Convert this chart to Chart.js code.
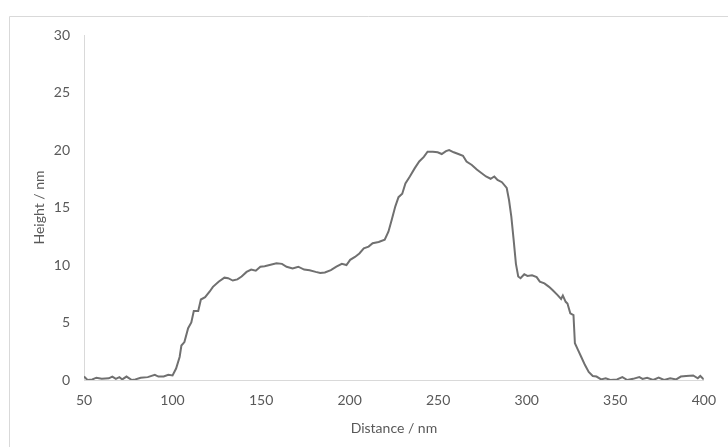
<!DOCTYPE html>
<html>
<head>
<meta charset="utf-8">
<script src="https://cdn.jsdelivr.net/npm/chart.js@4.4.1/dist/chart.umd.min.js"></script>
<style>
  html, body { margin: 0; padding: 0; background: #fff; }
  #profile { display: block; }
</style>
</head>
<body>
<canvas id="profile" width="728" height="447"></canvas>
<script>
// Height profile
const distance = [50, 52, 54.7, 57, 60, 64, 66, 68, 70, 71.6, 74, 77, 79, 82, 86, 90, 92, 95, 97.6, 100,
  102, 104, 105, 106.7, 108.8, 110.6, 112, 114.5, 116, 118.4, 121, 122.8, 126, 129.3, 131.4, 134, 136.6, 139,
  141.8, 144.4, 147, 149.6, 152, 154.8, 158.7, 161.8, 164.4, 167.8, 171, 174.3, 177.4, 180.8, 183.4, 186,
  189.4, 192.5, 195.6, 198.2, 200.3, 203, 205.5, 208, 210.7, 213, 216.4, 219.8, 221.9, 223.7, 225.8, 227.6,
  229.7, 231.5, 234, 236.7, 239.3, 241.9, 244, 247, 249.7, 252, 254.4, 256.2, 258.8, 261.4, 264, 266, 269,
  271.8, 274.4, 277, 279.6, 281.7, 283.5, 286, 288.7, 290, 291.3, 292.6, 293.9, 295.2, 296.5, 298.6, 300.4,
  303, 305.6, 307.4, 310, 312.6, 314.7, 317.3, 319.4, 320.4, 322, 323, 324.6, 326.4, 327.2, 329, 330.8,
  332.9, 335, 337.3, 339.4, 342, 344.6, 347.2, 351, 354, 356.8, 360, 363.6, 365.4, 368, 371.4, 374.5,
  377.6, 381, 384.4, 387, 390, 394, 396.6, 398, 400];
const height = [0.3, 0, 0.05, 0.2, 0.1, 0.15, 0.3, 0.1, 0.25, 0.05, 0.3, 0, 0.05, 0.2, 0.25, 0.45, 0.3, 0.3, 0.45, 0.4,
  1.0, 2.0, 3.0, 3.3, 4.5, 5.0, 6.0, 6.0, 7.0, 7.2, 7.7, 8.1, 8.55, 8.9, 8.85, 8.65, 8.75, 9.0,
  9.4, 9.6, 9.5, 9.85, 9.9, 10.0, 10.15, 10.1, 9.85, 9.7, 9.85, 9.6, 9.55, 9.4, 9.3, 9.35,
  9.55, 9.85, 10.1, 10.0, 10.45, 10.7, 11.0, 11.45, 11.6, 11.9, 12.0, 12.2, 12.9, 13.9, 15.1, 15.9,
  16.2, 17.1, 17.7, 18.4, 19.0, 19.4, 19.85, 19.85, 19.8, 19.65, 19.9, 20.0, 19.8, 19.65, 19.5, 19.0, 18.7,
  18.3, 18.0, 17.7, 17.5, 17.7, 17.4, 17.2, 16.7, 15.65, 14.2, 12.2, 10.1, 9.0, 8.85, 9.2, 9.05,
  9.1, 8.95, 8.55, 8.4, 8.1, 7.8, 7.4, 7.05, 7.35, 6.8, 6.65, 5.8, 5.65, 3.2, 2.6, 2.0,
  1.3, 0.7, 0.35, 0.3, 0.05, 0.15, 0, 0.05, 0.25, 0, 0.1, 0.25, 0.1, 0.2, 0, 0.2,
  0, 0.15, 0.05, 0.3, 0.35, 0.4, 0.15, 0.35, 0.05];
const xTicks = [50, 100, 150, 200, 250, 300, 350, 400];
const yTicks = [0, 5, 10, 15, 20, 25, 30];

const textColor = '#595959';
const axisColor = '#d9d9d9';
const fontFamily = 'Lato, "Open Sans", sans-serif';

// light frame of the chart area, cropped at right/bottom like the source
const framePlugin = {
  id: 'frame',
  beforeDraw(chart) {
    const ctx = chart.ctx;
    ctx.save();
    ctx.strokeStyle = axisColor;
    ctx.lineWidth = 1;
    ctx.beginPath();
    ctx.moveTo(9.5, 447);
    ctx.lineTo(9.5, 16.5);
    ctx.lineTo(728, 16.5);
    ctx.stroke();
    ctx.restore();
  }
};

const ctx = document.getElementById('profile').getContext('2d');
new Chart(ctx, {
  type: 'line',
  data: {
    datasets: [{
      data: distance.map((d, i) => ({ x: d, y: height[i] })),
      borderColor: '#707070',
      borderWidth: 2,
      pointRadius: 0,
      tension: 0,
      fill: false
    }]
  },
  options: {
    responsive: false,
    animation: false,
    layout: { padding: { left: 10, right: 19, top: 35, bottom: 0 } },
    plugins: { legend: { display: false }, tooltip: { enabled: false } },
    scales: {
      x: {
        type: 'linear',
        min: 50,
        max: 400,
        afterBuildTicks(scale) { scale.ticks = xTicks.map(v => ({ value: v })); },
        afterFit(scale) { scale.height = 67; },
        grid: { display: false, drawTicks: false },
        border: { display: true, color: axisColor, width: 1 },
        ticks: { color: textColor, font: { family: fontFamily, size: 14 }, padding: 12, maxRotation: 0 },
        title: { display: true, text: 'Distance / nm', color: textColor,
                 font: { family: fontFamily, size: 14 }, padding: { top: 0, bottom: 10 } }
      },
      y: {
        min: 0,
        max: 30,
        afterBuildTicks(scale) { scale.ticks = yTicks.map(v => ({ value: v })); },
        afterFit(scale) { scale.width = 74; },
        grid: { display: false, drawTicks: false },
        border: { display: true, color: axisColor, width: 1 },
        ticks: { color: textColor, font: { family: fontFamily, size: 14 }, padding: 14 },
        title: { display: true, text: 'Height / nm', color: textColor,
                 font: { family: fontFamily, size: 14 }, padding: { top: 21, bottom: 0 } }
      }
    }
  },
  plugins: [framePlugin]
});
</script>
</body>
</html>
